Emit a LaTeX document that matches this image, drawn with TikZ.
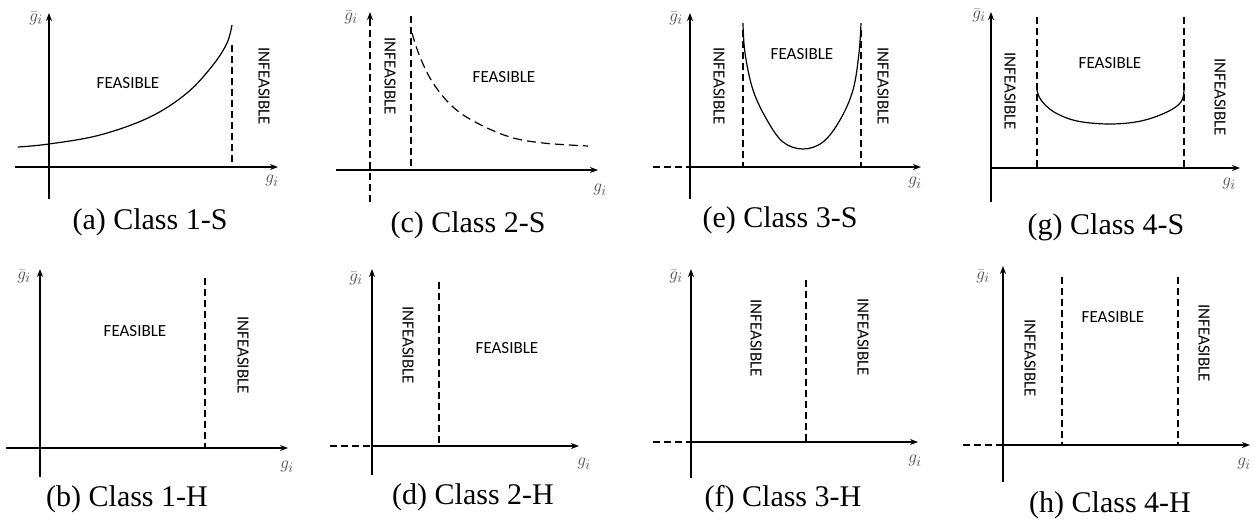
\documentclass[tikz,border=0pt]{standalone}
\usepackage{fontspec}
\setmainfont{Liberation Serif}
\newfontfamily\lblfont{Carlito}
\usetikzlibrary{arrows.meta}
\begin{document}
\begin{tikzpicture}[x=1pt,y=-1pt,
  axisline/.style={line width=1.3pt,-{Stealth[length=8pt,width=6pt]}},
  dsh/.style={line width=1.2pt,dash pattern=on 7pt off 4pt},
  curveline/.style={line width=1.2pt},
  region/.style={font=\lblfont\fontsize{17}{20}\selectfont,inner sep=0pt},
  vregion/.style={region,rotate=-90},
  captext/.style={font=\fontsize{30}{34}\selectfont,inner sep=0pt},
  ylab/.style={font=\fontsize{19}{21}\selectfont,text=black!70,inner sep=0pt},
  xlab/.style={font=\fontsize{19}{21}\selectfont,text=black!70,inner sep=0pt}]
\useasboundingbox (0,0) rectangle (1254,524);

% ---------- (a) Class 1-S ----------
\draw[axisline] (49,199) -- (49,13);
\draw[axisline] (15,167) -- (278,167);
\draw[dsh] (232,45) -- (232,167);
\draw[curveline] plot[smooth,tension=0.6] coordinates {(18,147) (49,144) (100,135) (150,117) (187,93) (213,65) (227,43) (232,25)};
\node[ylab] (a-y) at (36,18) {$\bar{g}_i$};
\node[xlab] (a-x) at (272,181) {$g_i$};
\node[region] (a-f) at (128,83) {FEASIBLE};
\node[vregion] (a-i) at (264,86) {INFEASIBLE};
\node[captext] (a-c) at (150,222) {(a) Class 1-S};

% ---------- (c) Class 2-S ----------
\draw[dsh] (370,202) -- (370,22);
\draw[line width=1.3pt,-{Stealth[length=8pt,width=6pt]}] (370,22) -- (370,12);
\draw[axisline] (336,170) -- (598,170);
\draw[line width=2pt] (370,170) -- (400,170);
\draw[dsh] (411,16) -- (411,167);
\draw[curveline,dash pattern=on 9pt off 5pt] plot[smooth,tension=0.6] coordinates {(412,33) (420,57) (433,83) (453,107) (477,123) (510,137) (543,143) (588,146)};
\node[ylab] (c-y) at (351,17) {$\bar{g}_i$};
\node[xlab] (c-x) at (600,190) {$g_i$};
\node[region] (c-f) at (504,77) {FEASIBLE};
\node[vregion] (c-i) at (390,76) {INFEASIBLE};
\node[captext] (c-c) at (468,225) {(c) Class 2-S};

% ---------- (e) Class 3-S ----------
\draw[axisline] (690,199) -- (690,13);
\draw[axisline] (690,167) -- (921,167);
\draw[dsh] (653,167) -- (690,167);
\draw[dsh] (743,30) -- (743,167);
\draw[dsh] (861,30) -- (861,167);
\draw[curveline] plot[smooth,tension=0.6] coordinates {(743,23) (745,53) (753,90) (767,120) (783,142) (803,149) (823,142) (840,120) (853,90) (859,53) (861,23)};
\node[ylab] (e-y) at (676,18) {$\bar{g}_i$};
\node[xlab] (e-x) at (915,183) {$g_i$};
\node[region] (e-f) at (802,54) {FEASIBLE};
\node[vregion] (e-i1) at (719,86) {INFEASIBLE};
\node[vregion] (e-i2) at (883,86) {INFEASIBLE};
\node[captext] (e-c) at (780,220) {(e) Class 3-S};

% ---------- (g) Class 4-S ----------
\draw[axisline] (991,202) -- (991,12);
\draw[axisline] (991,168) -- (1240,168);
\draw[dsh] (1037,17) -- (1037,167);
\draw[dsh] (1184,17) -- (1184,167);
\draw[curveline] plot[smooth,tension=0.6] coordinates {(1037,90) (1041,100) (1054,112) (1077,121) (1110,124) (1141,121) (1167,112) (1181,102) (1184,90)};
\node[ylab] (g-y) at (979,15) {$\bar{g}_i$};
\node[xlab] (g-x) at (1229,184) {$g_i$};
\node[region] (g-f) at (1110,63) {FEASIBLE};
\node[vregion] (g-i1) at (1010,91) {INFEASIBLE};
\node[vregion] (g-i2) at (1220,97) {INFEASIBLE};
\node[captext] (g-c) at (1106,227) {(g) Class 4-S};

% ---------- (b) Class 1-H ----------
\draw[axisline] (40,477) -- (40,269);
\draw[axisline] (6,448) -- (288,448);
\draw[line width=2pt] (40,448) -- (50,448);
\draw[dsh] (205,278) -- (205,448);
\node[ylab] (b-y) at (24,276) {$\bar{g}_i$};
\node[xlab] (b-x) at (287,467) {$g_i$};
\node[region] (b-f) at (135,331) {FEASIBLE};
\node[vregion] (b-i) at (243,355) {INFEASIBLE};
\node[captext] (b-c) at (127,499) {(b) Class 1-H};

% ---------- (d) Class 2-H ----------
\draw[axisline] (372,475) -- (372,269);
\draw[axisline] (372,446) -- (579,446);
\draw[dsh] (330,446) -- (372,446);
\draw[dsh] (439,282) -- (439,446);
\node[ylab] (d-y) at (356,278) {$\bar{g}_i$};
\node[xlab] (d-x) at (584,464) {$g_i$};
\node[region] (d-f) at (507,348) {FEASIBLE};
\node[vregion] (d-i) at (408,345) {INFEASIBLE};
\node[captext] (d-c) at (473,497) {(d) Class 2-H};

% ---------- (f) Class 3-H ----------
\draw[axisline] (691,478) -- (691,269);
\draw[axisline] (691,442) -- (918,442);
\draw[dsh] (653,442) -- (691,442);
\draw[dsh] (806,280) -- (806,442);
\node[ylab] (f-y) at (676,276) {$\bar{g}_i$};
\node[xlab] (f-x) at (915,461) {$g_i$};
\node[vregion] (f-i1) at (756,338) {INFEASIBLE};
\node[vregion] (f-i2) at (863,337) {INFEASIBLE};
\node[captext] (f-c) at (783,499) {(f) Class 3-H};

% ---------- (h) Class 4-H ----------
\draw[axisline] (1003,482) -- (1003,266);
\draw[axisline] (1003,445) -- (1250,445);
\draw[dsh] (963,445) -- (1003,445);
\draw[dsh] (1062,277) -- (1062,445);
\draw[dsh] (1178,277) -- (1178,445);
\node[ylab] (h-y) at (983,276) {$\bar{g}_i$};
\node[xlab] (h-x) at (1244,464) {$g_i$};
\node[region] (h-f) at (1113,317) {FEASIBLE};
\node[vregion] (h-i1) at (1030,358) {INFEASIBLE};
\node[vregion] (h-i2) at (1204,343) {INFEASIBLE};
\node[captext] (h-c) at (1110,505) {(h) Class 4-H};
\end{tikzpicture}
\end{document}
